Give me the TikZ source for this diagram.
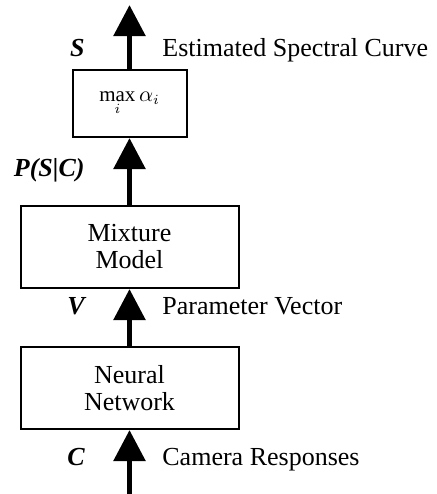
\documentclass[tikz,border=0pt]{standalone}
\usepackage{fontspec}
\setmainfont{Liberation Serif}
\usetikzlibrary{arrows.meta, positioning}
\tikzset{
  blk/.style={rectangle, draw, line width=1pt, minimum width=109pt, minimum height=41pt,
    inner sep=0pt, align=center, font=\fontsize{13}{13.5}\selectfont},
  sel/.style={blk, minimum width=57pt, minimum height=33.5pt, font=\fontsize{10.5}{12}\selectfont},
  arrow/.style={-{Triangle[length=15.5pt, width=15.5pt]}, line width=2.75pt},
  sym/.style={anchor=base east, inner sep=0pt, font=\fontsize{13}{13.5}\selectfont\bfseries\itshape},
  desc/.style={anchor=base west, inner sep=0pt, font=\fontsize{13}{13.5}\selectfont}
}
\begin{document}
\begin{tikzpicture}
  \useasboundingbox (0pt,0pt) rectangle (218pt,-247pt);
  \node[blk] (mixture) at (64.75pt,-123.5pt) {Mixture\\Model};
  \node[blk, below=28.5pt of mixture] (neural) {Neural\\Network};
  \node[sel, above=33.5pt of mixture] (maxsel) {$\mathop{\mbox{max}}\limits_{i}\alpha_{i}$};
  \coordinate[above=32pt of maxsel] (out);
  \coordinate (in) at (64.75pt,-247pt);
  \draw[arrow] (in) -- (neural);
  \draw[arrow] (neural) -- (mixture);
  \draw[arrow] (mixture) -- (maxsel);
  \draw[arrow] (maxsel) -- (out);
  % labels beside the arrows
  \node[sym] (lblS) at (42.5pt,-28pt) {S};
  \node[desc] (lblcurve) at (81pt,-28pt) {Estimated Spectral Curve};
  \node[sym] (lblP) at (42.5pt,-88pt) {P(S|C)};
  \node[sym] (lblV) at (42.5pt,-157pt) {V};
  \node[desc] (lblvec) at (81pt,-157pt) {Parameter Vector};
  \node[sym] (lblC) at (42.5pt,-232.5pt) {C};
  \node[desc] (lblcam) at (81pt,-232.5pt) {Camera Responses};
\end{tikzpicture}
\end{document}
